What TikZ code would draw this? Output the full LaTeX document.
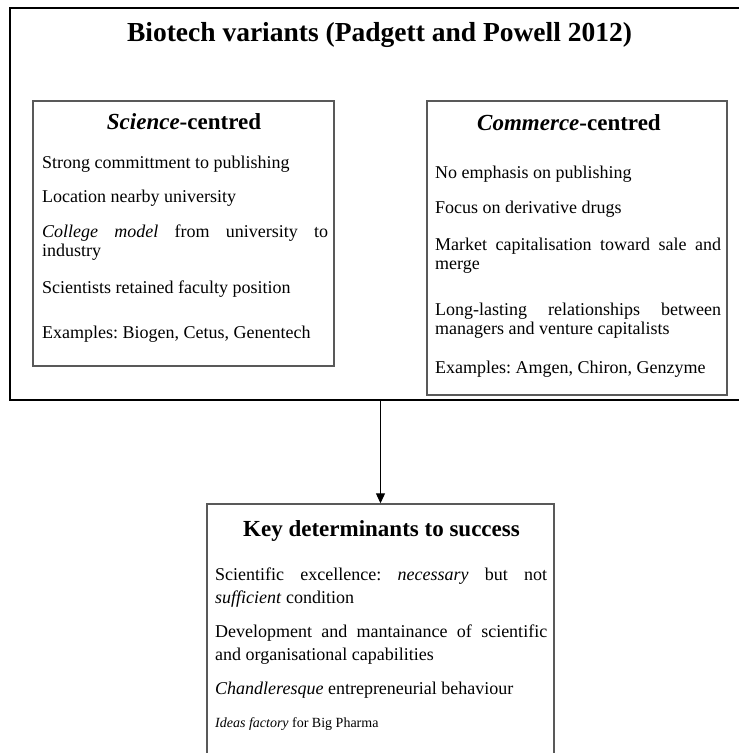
\documentclass[tikz,border=0pt]{standalone}
\usepackage{fontspec}
\setmainfont{Liberation Serif}
\usetikzlibrary{arrows.meta}
\hyphenpenalty=10000
\exhyphenpenalty=10000
\frenchspacing

\begin{document}
\begin{tikzpicture}[x=1pt, y=-1pt,
    outerbox/.style={draw=black, line width=1.3pt, inner sep=0pt},
    panel/.style={draw=black!65, line width=1.4pt, inner sep=0pt},
    head/.style={anchor=base, inner sep=0pt, font=\fontsize{23}{26}\selectfont\bfseries},
    item/.style={anchor=base west, inner sep=0pt, align=justify, font=\fontsize{18}{19}\selectfont}]
    \useasboundingbox (0,0) rectangle (739,753);
    \clip (0,0) rectangle (739,753);
    % outer frame and the three panels
    \node[outerbox, minimum width=739, minimum height=392] (variants) at (379.5,204) {};
    \node[panel, minimum width=301, minimum height=265] (science) at (183.5,233.5) {};
    \node[panel, minimum width=300, minimum height=294] (commerce) at (577,248) {};
    \node[panel, minimum width=347, minimum height=266] (success) at (380.5,637) {};
    % headings
    \node[anchor=base, inner sep=0pt, font=\fontsize{27.5}{30}\selectfont\bfseries] (title) at (379.5,41)
        {Biotech variants (Padgett and Powell 2012)};
    \node[head] (scihead) at (184,129) {\textit{Science}-centred};
    \node[head] (comhead) at (569,130) {\textit{Commerce}-centred};
    \node[head] (sucghead) at (381.5,536) {Key determinants to success};
    % science-centred
    \foreach \yy/\txt [count=\i] in {168/Strong committment to publishing,
        202/Location nearby university,
        237/\textit{College model} from university to industry,
        293/Scientists retained faculty position,
        338/{Examples: Biogen, Cetus, Genentech}} {
        \node[item, text width=286] (sci\i) at (42,\yy) {\txt};
    }
    % commerce-centred
    \foreach \yy/\txt [count=\i] in {178/No emphasis on publishing,
        213/Focus on derivative drugs,
        250/Market capitalisation toward sale and merge,
        315/Long-lasting relationships between managers and venture capitalists,
        373/{Examples: Amgen, Chiron, Genzyme}} {
        \node[item, text width=286] (com\i) at (435,\yy) {\txt};
    }
    % key determinants
    \foreach \yy/\txt [count=\i] in {580/Scientific excellence: \textit{necessary} but not \textit{sufficient} condition,
        637/Development and mantainance of scientific and organisational capabilities,
        694/\textit{Chandleresque} entrepreneurial behaviour} {
        \node[item, text width=332, font=\fontsize{18}{23}\selectfont] (suc\i) at (215,\yy) {\txt};
    }
    \node[item, text width=332, font=\fontsize{14}{16}\selectfont] (suc4) at (215,727) {\textit{Ideas factory} for Big Pharma};
    \draw[line width=1pt, -{Triangle[length=10pt,width=9pt]}] (variants.south -| success.north) -- (success.north);
\end{tikzpicture}
\end{document}
